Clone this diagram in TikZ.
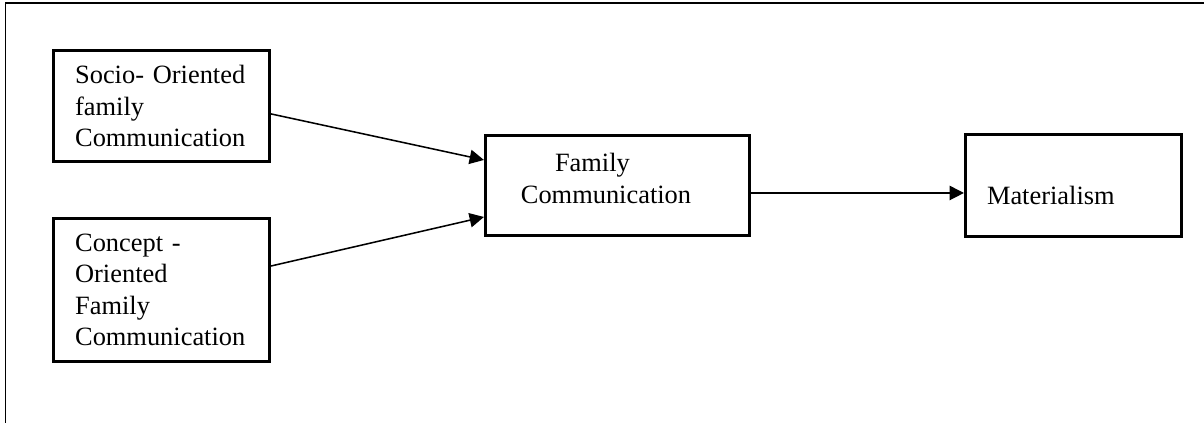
\documentclass[tikz,border=0pt]{standalone}
\usepackage{fontspec}
\setmainfont{Liberation Serif}
\usetikzlibrary{arrows.meta}

\begin{document}
\begin{tikzpicture}[x=0.4545pt, y=-0.4545pt, >={Triangle[length=6.5pt,width=6.5pt]}]
        % Define box styles
        \tikzstyle{block}=[rectangle, draw=black, line width=1.4pt, inner xsep=9.8pt, align=left, font=\fontsize{12}{14.2}\selectfont]
        \tikzstyle{link}=[->, line width=0.7pt]

        \useasboundingbox (0,0) rectangle (1204,423);

        % Outer frame
        \draw [line width=0.7pt] (5.7,423) -- (5.7,3) -- (1204,3);

        % Left boxes
        \node [block, text width=78.5pt, minimum height=50.4pt] (socio) at (161.5,106) {Socio- Oriented\\family\\Communication};
        \node [block, text width=78.5pt, minimum height=65pt] (concept) at (161.5,290) {Concept -\\Oriented\\Family\\Communication};

        % Middle box
        \node [block, inner xsep=16.1pt, text width=87.8pt, minimum height=45.5pt] (family) at (617.5,185.5) {\hspace*{15.5pt}Family\\Communication\rule[-6.4pt]{0pt}{0pt}};

        % Right box
        \node [block, text width=78.6pt, minimum height=46.4pt] (material) at (1073.5,185.5) {\rule{0pt}{17.5pt}Materialism};

        % Connect boxes
        \draw [link] ([yshift=-3.6pt]socio.east) -- ([yshift=11.6pt]family.west);
        \draw [link] ([yshift=10.9pt]concept.east) -- ([yshift=-14.3pt]family.west);
        \draw [link] ([yshift=-3.4pt]family.east) -- ([yshift=-3.4pt]material.west);
\end{tikzpicture}
\end{document}
